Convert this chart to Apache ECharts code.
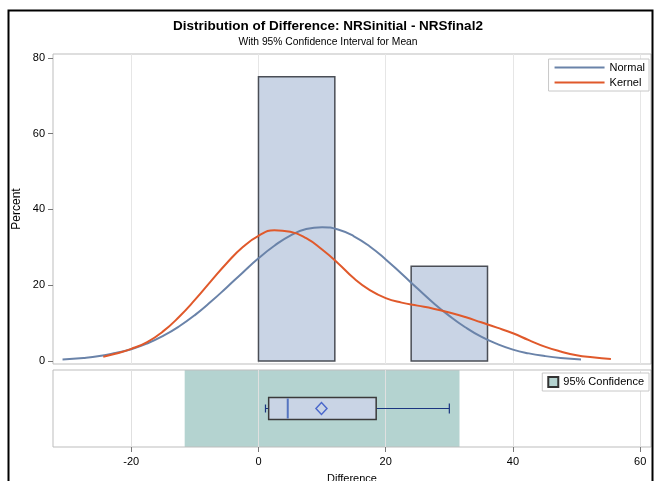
<!DOCTYPE html>
<html>
<head>
<meta charset="utf-8">
<script src="https://cdn.jsdelivr.net/npm/echarts@6/dist/echarts.min.js"></script>
<style>
  html, body { margin: 0; padding: 0; background: #fff; }
  #chart { width: 656px; height: 481px; }
</style>
</head>
<body>
<div id="chart"></div>
<script>
// histogram bins (Difference) and percent
const binStart = [0, 24];
const binEnd = [12, 36];
const binPct = [75, 25];

// normal density curve
const normalX = [-30.8, -27.5, -25, -22.5, -20, -17.5, -15, -12.5, -10, -7.5, -5, -2.5, 0, 2.5, 5, 7.5, 10, 12.5, 15, 17.5, 20, 22.5, 25, 27.5, 30, 32.5, 35, 37.5, 40, 42.5, 45, 47.5, 50.7];
const normalY = [0.4, 0.8, 1.3, 2.1, 3.1, 4.6, 6.6, 9.1, 12.1, 15.6, 19.4, 23.3, 27.1, 30.4, 33.1, 34.8, 35.3, 34.7, 32.9, 30.2, 26.8, 23.0, 19.1, 15.3, 11.9, 8.9, 6.4, 4.5, 3.0, 2.0, 1.3, 0.8, 0.4];

// kernel density curve
const kernelX = [-24.4, -22.5, -20, -17.5, -15, -12.5, -10, -7.5, -5, -2.5, 0, 2.5, 5, 7.5, 10, 12.5, 15, 17.5, 20, 22.5, 25, 27.5, 30, 32.5, 35, 37.5, 40, 42.5, 45, 47.5, 50, 52.5, 55.4];
const kernelY = [1.1, 1.9, 3.2, 5.0, 7.8, 11.6, 16.1, 21.0, 25.8, 30.0, 33.0, 34.5, 34.1, 32.4, 29.4, 25.8, 21.8, 18.7, 16.6, 15.4, 14.6, 13.8, 12.8, 11.6, 10.2, 8.8, 7.3, 5.5, 3.8, 2.5, 1.5, 0.95, 0.5];

// box plot stats: min, q1, median, q3, max ; mean ; 95% CI
const boxStats = [1.1, 1.6, 4.6, 18.5, 30];
const meanVal = 9.9;
const ciRange = [-11.6, 31.6];

const xTicks = [-20, 0, 20, 40, 60];
const yTicks = [0, 20, 40, 60, 80];

const chart = echarts.init(document.getElementById('chart'));
const font = 'Liberation Sans, Arial, sans-serif';

const option = {
  animation: false,
  textStyle: { fontFamily: font },
  title: [
    {
      text: 'Distribution of Difference: NRSinitial - NRSfinal2',
      left: 'center', top: 14,
      textStyle: { fontSize: 13.5, fontWeight: 'bold', color: '#000', fontFamily: font }
    },
    {
      text: 'With 95% Confidence Interval for Mean',
      left: 'center', top: 32,
      textStyle: { fontSize: 10.3, fontWeight: 'normal', color: '#000', fontFamily: font }
    }
  ],
  graphic: [
    {
      type: 'rect', z: 100, silent: true,
      shape: { x: 8.5, y: 10.5, width: 644, height: 520 },
      style: { fill: 'none', stroke: '#000', lineWidth: 2 }
    }
  ],
  legend: [
    {
      data: ['Normal', 'Kernel'],
      orient: 'vertical',
      right: 7, top: 59,
      icon: 'rect', itemWidth: 50, itemHeight: 2, itemGap: 4,
      padding: [3, 4, 3, 6],
      borderColor: '#c8c8c8', borderWidth: 1, backgroundColor: '#fff',
      textStyle: { fontSize: 11, color: '#000', fontFamily: font }
    },
    {
      data: ['95% Confidence'],
      right: 7, top: 373,
      icon: 'rect', itemWidth: 10, itemHeight: 10, itemGap: 5,
      padding: [3, 5, 3, 5],
      borderColor: '#c8c8c8', borderWidth: 1, backgroundColor: '#fff',
      textStyle: { fontSize: 11, color: '#000', fontFamily: font }
    }
  ],
  grid: [
    { left: 53, right: 5, top: 54, height: 310, show: true, borderColor: '#bdbdbd', borderWidth: 1, outerBoundsMode: 'none' },
    { left: 53, right: 5, top: 370, height: 77, show: true, borderColor: '#bdbdbd', borderWidth: 1, outerBoundsMode: 'none' }
  ],
  xAxis: [
    {
      type: 'value', gridIndex: 0, min: -32.3, max: 61.7,
      axisLine: { show: false, onZero: false }, axisTick: { show: false, customValues: xTicks },
      axisLabel: { show: false, customValues: xTicks },
      splitLine: { show: true, customValues: xTicks, lineStyle: { color: '#e6e6e6', width: 1 } }
    },
    {
      type: 'value', gridIndex: 1, min: -32.3, max: 61.7,
      name: 'Difference', nameLocation: 'middle', nameGap: 26,
      nameTextStyle: { fontSize: 11, color: '#000', fontFamily: font },
      axisLine: { show: false, onZero: false },
      axisTick: { show: true, length: 5, customValues: xTicks, lineStyle: { color: '#777' } },
      axisLabel: { customValues: xTicks, fontSize: 11, color: '#000', margin: 9, fontFamily: font },
      splitLine: { show: true, customValues: xTicks, lineStyle: { color: '#e0e0e0', width: 1 } }
    }
  ],
  yAxis: [
    {
      type: 'value', gridIndex: 0, min: -0.8, max: 81,
      name: 'Percent', nameLocation: 'middle', nameGap: 30, nameRotate: 90, nameMoveOverlap: false,
      nameTextStyle: { fontSize: 12, color: '#000', fontFamily: font },
      axisLine: { show: false, onZero: false },
      axisTick: { show: true, length: 5, customValues: yTicks, lineStyle: { color: '#777' } },
      axisLabel: { customValues: yTicks, fontSize: 11, color: '#000', margin: 8, fontFamily: font },
      splitLine: { show: false }
    },
    {
      type: 'value', gridIndex: 1, min: 0, max: 1,
      axisLine: { show: false, onZero: false }, axisTick: { show: false }, axisLabel: { show: false },
      splitLine: { show: false }
    }
  ],
  series: [
    {
      name: 'Histogram',
      type: 'custom', xAxisIndex: 0, yAxisIndex: 0, z: 1,
      data: binStart.map((s, i) => [s, binEnd[i], binPct[i]]),
      renderItem: function (params, api) {
        const p0 = api.coord([api.value(0), 0]);
        const p1 = api.coord([api.value(1), api.value(2)]);
        return {
          type: 'rect',
          shape: { x: p0[0], y: p1[1], width: p1[0] - p0[0], height: p0[1] - p1[1] },
          style: { fill: '#c9d4e5', stroke: '#4a4e56', lineWidth: 1.5 }
        };
      }
    },
    {
      name: 'Normal', type: 'line', xAxisIndex: 0, yAxisIndex: 0, z: 3,
      smooth: true, showSymbol: false, symbol: 'none',
      data: normalX.map((x, i) => [x, normalY[i]]),
      itemStyle: { color: '#6a83a9' },
      lineStyle: { color: '#6a83a9', width: 2 }
    },
    {
      name: 'Kernel', type: 'line', xAxisIndex: 0, yAxisIndex: 0, z: 4,
      smooth: true, showSymbol: false, symbol: 'none',
      data: kernelX.map((x, i) => [x, kernelY[i]]),
      itemStyle: { color: '#e0592b' },
      lineStyle: { color: '#e0592b', width: 2 }
    },
    {
      name: '95% Confidence',
      type: 'custom', xAxisIndex: 1, yAxisIndex: 1, z: -1,
      itemStyle: { color: '#b4d3d0', borderColor: '#333', borderWidth: 1 },
      data: [[ciRange[0], ciRange[1]]],
      renderItem: function (params, api) {
        const a = api.coord([api.value(0), 1]);
        const b = api.coord([api.value(1), 0]);
        return {
          type: 'rect',
          shape: { x: a[0], y: a[1], width: b[0] - a[0], height: b[1] - a[1] },
          style: { fill: '#b4d3d0' }
        };
      }
    },
    {
      name: 'Box',
      type: 'custom', xAxisIndex: 1, yAxisIndex: 1, z: 3,
      data: [boxStats],
      renderItem: function (params, api) {
        const y = api.coord([0, 0.5])[1];
        const px = [0, 1, 2, 3, 4].map(k => api.coord([api.value(k), 0.5])[0]);
        const half = 11;
        const whisk = '#1a3580';
        return {
          type: 'group',
          children: [
            { type: 'line', shape: { x1: px[0], y1: y, x2: px[1], y2: y }, style: { stroke: whisk, lineWidth: 1 } },
            { type: 'line', shape: { x1: px[3], y1: y, x2: px[4], y2: y }, style: { stroke: whisk, lineWidth: 1.2 } },
            { type: 'line', shape: { x1: px[0], y1: y - 4, x2: px[0], y2: y + 4 }, style: { stroke: whisk, lineWidth: 1.2 } },
            { type: 'line', shape: { x1: px[4], y1: y - 5, x2: px[4], y2: y + 5 }, style: { stroke: whisk, lineWidth: 1.2 } },
            { type: 'rect', shape: { x: px[1], y: y - half, width: px[3] - px[1], height: 2 * half }, style: { fill: '#c9d4e5', stroke: '#3a3a3a', lineWidth: 1.5 } },
            { type: 'line', shape: { x1: px[2], y1: y - half + 1, x2: px[2], y2: y + half - 1 }, style: { stroke: '#5574c0', lineWidth: 2 } }
          ]
        };
      }
    },
    {
      name: 'Mean',
      type: 'scatter', xAxisIndex: 1, yAxisIndex: 1, z: 5,
      symbol: 'diamond', symbolSize: [11, 12],
      data: [[meanVal, 0.5]],
      itemStyle: { color: 'rgba(0,0,0,0)', borderColor: '#2a4cc4', borderWidth: 1.5 }
    }
  ]
};

chart.setOption(option);
</script>
</body>
</html>
